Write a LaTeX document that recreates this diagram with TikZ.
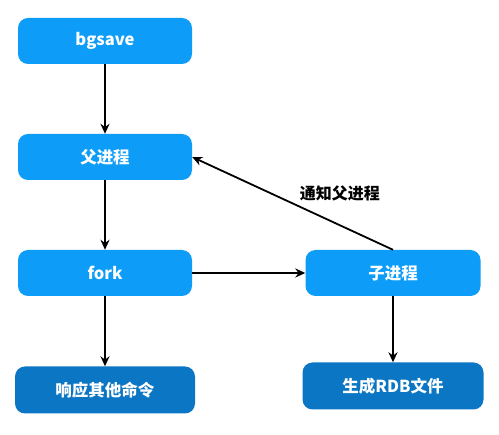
\documentclass[tikz,border=0pt]{standalone}
\usepackage{fontspec}
\newfontfamily\cjk{Noto Sans CJK SC}
\usetikzlibrary{arrows.meta}
\definecolor{lightblue}{HTML}{0D9DF8}
\definecolor{darkblue}{HTML}{0B76C3}
\begin{document}
\begin{tikzpicture}[x=1pt,y=-1pt,
  box/.style={rounded corners=10pt, minimum width=174pt, minimum height=46pt, inner sep=0pt, text=white, font=\cjk\bfseries\fontsize{16.5}{19}\selectfont},
  lbox/.style={box, fill=lightblue},
  dbox/.style={box, fill=darkblue, minimum width=180pt, minimum height=47pt},
  conn/.style={draw=black, line width=1.8pt, -{Stealth[length=10pt,width=9pt]}},
  lbl/.style={font=\cjk\bfseries\fontsize{16}{19}\selectfont, text=black}]
\useasboundingbox (0,0) rectangle (499,435);
\fill[white] (0,0) rectangle (499,435);
\node[lbox] (bgsave) at (105,41) {bgsave};
\node[lbox] (parent) at (105,157) {父进程};
\node[lbox] (fork) at (105,273) {fork};
\node[dbox] (resp) at (105,390) {响应其他命令};
\node[lbox, minimum width=175pt] (child) at (393,273) {子进程};
\node[dbox, minimum width=181pt] (rdb) at (393,386) {生成RDB文件};
\draw[conn] (bgsave) -- (parent);
\draw[conn] (parent) -- (fork);
\draw[conn] (fork) -- (resp);
\draw[conn] (fork) -- (child);
\draw[conn] (child) -- (rdb);
\draw[conn] (child.north) -- node[lbl, pos=0.264, yshift=32pt] {通知父进程} (parent.east);
\end{tikzpicture}
\end{document}
